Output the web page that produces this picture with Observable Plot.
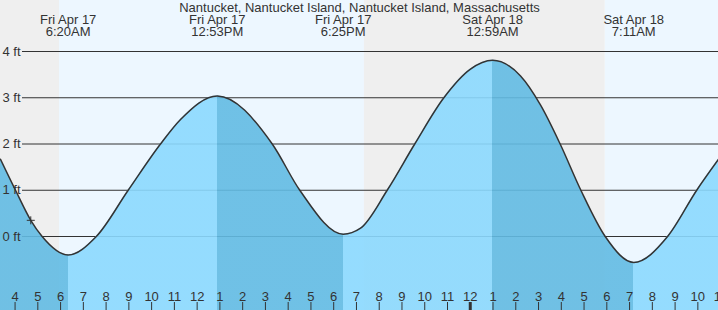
<!DOCTYPE html>
<html>
<head>
<meta charset="utf-8">
<script src="https://cdn.jsdelivr.net/npm/d3@7"></script>
<script src="https://cdn.jsdelivr.net/npm/@observablehq/plot@0.6"></script>
<style>
  html, body { margin: 0; padding: 0; background: #fff; }
  svg { display: block; }
</style>
</head>
<body>
<div id="chart"></div>
<script>
// ---- data ----
const title = "Nantucket, Nantucket Island, Nantucket Island, Massachusetts";

// tide extremes
const extremeDay  = ["Fri Apr 17", "Fri Apr 17", "Fri Apr 17", "Sat Apr 18", "Sat Apr 18"];
const extremeTime = ["6:20AM", "12:53PM", "6:25PM", "12:59AM", "7:11AM"];
const extremeType = ["low", "high", "low", "high", "low"];
const extremeFeet = [-0.40, 3.04, 0.05, 3.81, -0.56];

// tide curve readings between extremes (hours since Fri 00:00, feet)
const readHours = [3.36, 4.02, 4.69, 5.19, 7.57, 8.97, 10.39, 11.27, 15.30, 16.51,
                   19.18, 20.35, 21.56, 22.84, 24.01, 26.21, 27.09, 27.95, 28.86, 29.93, 32.67, 33.95, 34.91];
const readFeet  = [1.67, 1.00, 0.35, 0.00, 0.00, 1.00, 2.00, 2.53, 2.00, 1.00,
                   0.18, 1.00, 2.00, 3.00, 3.62, 3.47, 2.84, 2.00, 1.00, 0.00, 0.00, 1.00, 1.67];

// current time marker
const nowHour = 4.69;
const nowFeet = 0.35;

// daylight
const sunDay  = ["Fri", "Fri", "Sat"];
const sunTime = ["5:57AM", "7:21PM", "5:56AM"];

// axes
const xDomain = [3.36, 34.907];
const yDomain = [-1.60, 5.103];
const gridFeet = [0, 1, 2, 3, 4];
const tickHours = d3.range(4, 36);

// ---- helpers ----
function toHours(day, t) {
  const m = t.match(/(\d+):(\d+)(AM|PM)/);
  let h = (+m[1]) % 12 + (+m[2]) / 60;
  if (m[3] === "PM") h += 12;
  if (day.startsWith("Sat")) h += 24;
  return h;
}

const extremes = extremeTime.map((t, i) => ({
  h: toHours(extremeDay[i], t), ft: extremeFeet[i], type: extremeType[i],
  label: extremeDay[i] + "\n" + t
}));

const curve = readHours.map((h, i) => ({h, ft: readFeet[i]}))
  .concat(extremes.map(e => ({h: e.h, ft: e.ft})))
  .sort((a, b) => a.h - b.h);

const sunHours = sunTime.map((t, i) => toHours(sunDay[i], t));
const bandEdges = [xDomain[0], ...sunHours, xDomain[1]];
const bands = d3.range(bandEdges.length - 1).map(i => ({
  x1: bandEdges[i], x2: bandEdges[i + 1], fill: i % 2 === 0 ? "#efefef" : "#edf7ff"
}));

const ink = "#333";
const font = "'Liberation Sans', Arial, sans-serif";

const chart = Plot.plot({
  width: 718,
  height: 310,
  margin: 0,
  x: {domain: xDomain, axis: null},
  y: {domain: yDomain, axis: null},
  style: {fontFamily: font, fontSize: "13px", background: "#fff", color: ink},
  marks: [
    Plot.rect(bands, {x1: "x1", x2: "x2", fill: "fill"}),
    Plot.ruleY(gridFeet, {y: d => d, insetLeft: 22, stroke: ink, strokeWidth: 1}),
    Plot.areaY(curve, {x: "h", y1: yDomain[0], y2: "ft", curve: "monotone-x",
                       fill: "url(#tideFill)", fillOpacity: 0.9}),
    Plot.line(curve, {x: "h", y: "ft", curve: "monotone-x", stroke: ink, strokeWidth: 1.5}),
    Plot.dot([{h: nowHour, ft: nowFeet}], {x: "h", y: "ft", symbol: "plus", r: 2.7,
                                            stroke: ink, strokeWidth: 1}),
    Plot.ruleX(tickHours, {x: d => d, insetTop: 302, stroke: ink,
                           strokeWidth: d => (d % 24 === 0 ? 3 : 1)}),
    Plot.text(tickHours, {x: d => d, frameAnchor: "bottom", lineAnchor: "top", dy: -19.2,
                          text: d => String(d % 12 || 12), fill: ink, fontSize: 13}),
    Plot.text(gridFeet, {y: d => d, frameAnchor: "left", textAnchor: "end", dx: 20,
                         lineAnchor: "middle", text: d => d + " ft", fill: ink, fontSize: 13}),
    Plot.text(extremes, {x: "h", frameAnchor: "top", lineAnchor: "top", dy: 15,
                         lineHeight: 0.923, text: "label", fill: ink, fontSize: 13}),
    Plot.text([title], {frameAnchor: "top", lineAnchor: "top", dy: 1.8, text: d => d,
                        fill: ink, fontSize: 13})
  ]
});

// hard-stop gradient: falling tide darker, rising tide lighter, split at extremes
const xs = chart.scale("x");
const dark = "#62bbe3", light = "#8bd9fe";
const grad = d3.select(chart).insert("defs", ":first-child")
  .append("linearGradient").attr("id", "tideFill")
  .attr("gradientUnits", "userSpaceOnUse")
  .attr("x1", xs.range[0]).attr("x2", xs.range[1]).attr("y1", 0).attr("y2", 0);
let cur = extremes[0].type === "low" ? dark : light;
grad.append("stop").attr("offset", 0).attr("stop-color", cur);
const span = xs.range[1] - xs.range[0];
extremes.forEach(e => {
  const off = (xs.apply(e.h) - xs.range[0]) / span;
  grad.append("stop").attr("offset", off).attr("stop-color", cur);
  cur = e.type === "low" ? light : dark;
  grad.append("stop").attr("offset", off).attr("stop-color", cur);
});
grad.append("stop").attr("offset", 1).attr("stop-color", cur);

document.getElementById("chart").appendChild(chart);
</script>
</body>
</html>
